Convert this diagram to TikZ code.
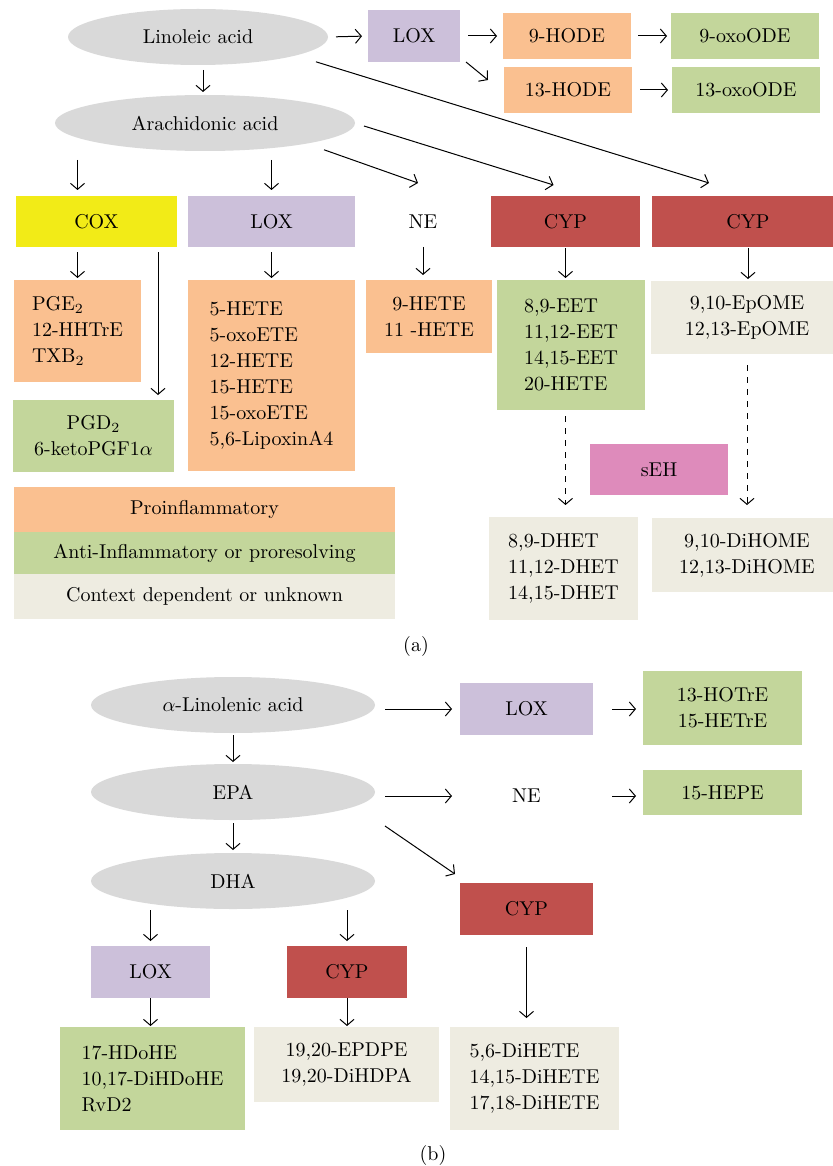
\documentclass[tikz,border=0pt]{standalone}
\usepackage{amsmath}
\usepackage{tikz}
\usepackage{xcolor}
\usetikzlibrary{shapes.geometric,positioning,arrows.meta}

\definecolor{acidgray}{HTML}{D9D9D9}
\definecolor{loxpurple}{HTML}{CCC0DA}
\definecolor{coxyellow}{HTML}{F2EB17}
\definecolor{cypred}{HTML}{C0504D}
\definecolor{sehpink}{HTML}{DE8BBB}
\definecolor{proorange}{HTML}{FAC090}
\definecolor{antigreen}{HTML}{C3D69B}
\definecolor{ctxbeige}{HTML}{EEECE1}

\begin{document}
\begin{tikzpicture}[x=0.5pt,y=-0.5pt,>={Straight Barb[length=3pt,width=7pt]},font=\fontsize{10}{13}\selectfont,
    acid/.style={ellipse,fill=acidgray,inner sep=0pt,outer sep=0pt,minimum width=#1,minimum height=28pt},
    box/.style={rectangle,fill=#1,inner sep=0pt,outer sep=0pt},
    plain/.style={rectangle,inner sep=0pt,outer sep=0pt}]
   \useasboundingbox (0,0) rectangle (833,1166);
   \clip (0,0) rectangle (833,1166);
   % (a)
   \node[acid=130pt] (la) at (198,37) {Linoleic acid};
   \node[acid=150pt] (aa) at (205,123) {Arachidonic acid};
   \node[box=loxpurple,minimum width=46pt,minimum height=26pt] (lox_1) at (414,36) {LOX};
   \node[box=proorange,minimum width=64pt,minimum height=23pt] (hode_9) at (567,36) {9-HODE};
   \node[box=antigreen,minimum width=74pt,minimum height=23pt] (oxo_9) at (745,36) {9-oxoODE};
   \node[box=proorange,minimum width=64pt,minimum height=23pt] (hode_13) at (568,90) {13-HODE};
   \node[box=antigreen,minimum width=74pt,minimum height=23pt] (oxo_13) at (746,90) {13-oxoODE};
   \node[box=coxyellow,minimum width=80.5pt,minimum height=25.5pt] (cox) at (96.5,221.5) {COX};
   \node[box=loxpurple,minimum width=83.5pt,minimum height=25.5pt] (lox_2) at (271.5,221.5) {LOX};
   \node[plain,minimum width=60pt,minimum height=25.5pt] (ne_1) at (423,221.5) {NE};
   \node[box=cypred,minimum width=74.5pt,minimum height=25.5pt] (cyp_1) at (565.5,221.5) {CYP};
   \node[box=cypred,minimum width=96pt,minimum height=25.5pt] (cyp_2) at (748,221.5) {CYP};
   \node[box=proorange,minimum width=63.5pt,minimum height=51pt,align=left] (pg_1) at (77.5,331) {PGE$_2$\\12-HHTrE\\TXB$_2$};
   \node[box=antigreen,minimum width=80.5pt,minimum height=36pt,align=center] (pg_2) at (93.5,436) {PGD$_2$\\6-ketoPGF1$\alpha$};
   \node[box=proorange,minimum width=83.5pt,minimum height=95.5pt,align=left] (hete_5) at (271.5,375.5) {5-HETE\\5-oxoETE\\12-HETE\\15-HETE\\15-oxoETE\\5,6-LipoxinA4};
   \node[box=proorange,minimum width=63pt,minimum height=36.5pt,align=center] (hete_9) at (429,316.5) {9-HETE\\11 -HETE};
   \node[box=antigreen,minimum width=74pt,minimum height=65pt,align=left] (eet) at (571,345) {8,9-EET\\11,12-EET\\14,15-EET\\20-HETE};
   \node[box=ctxbeige,minimum width=96pt,minimum height=36.5pt,align=center] (epome) at (747,317.5) {9,10-EpOME\\12,13-EpOME};
   \node[box=sehpink,minimum width=69pt,minimum height=25.5pt] (seh) at (659,469.5) {sEH};
   \node[box=ctxbeige,minimum width=74.5pt,minimum height=51.5pt,align=left] (dhet) at (563.5,568.5) {8,9-DHET\\11,12-DHET\\14,15-DHET};
   \node[box=ctxbeige,minimum width=95pt,minimum height=37pt,align=center] (dihome) at (747,555) {9,10-DiHOME\\12,13-DiHOME};
   % legend
   \node[box=proorange,minimum width=190.5pt,minimum height=22.5pt] (pro) at (204.5,509.5) {Proinflammatory};
   \node[box=antigreen,minimum width=190.5pt,minimum height=21pt,below=0pt of pro] (anti) {Anti-Inflammatory or proresolving};
   \node[box=ctxbeige,minimum width=190.5pt,minimum height=22.5pt,below=0pt of anti] (ctx) {Context dependent or unknown};
   \node (cap_a) at (416,646) {(a)};
   % (b)
   \node[acid=142pt] (ala) at (233,705) {$\alpha$-Linolenic acid};
   \node[acid=142pt,below=15.5pt of ala] (epa) {EPA};
   \node[acid=142pt,below=16.5pt of epa] (dha) {DHA};
   \node[box=loxpurple,minimum width=66.5pt,minimum height=26pt] (lox_3) at (526.5,709) {LOX};
   \node[box=antigreen,minimum width=79.5pt,minimum height=37pt,align=center] (hotre) at (722.5,708) {13-HOTrE\\15-HETrE};
   \node[plain,minimum width=66.5pt,minimum height=26pt] (ne_2) at (526.5,796) {NE};
   \node[box=antigreen,minimum width=79.5pt,minimum height=22.5pt] (hepe) at (722.5,792.5) {15-HEPE};
   \node[box=cypred,minimum width=66.5pt,minimum height=26pt] (cyp_3) at (526.5,909) {CYP};
   \node[box=loxpurple,minimum width=59.5pt,minimum height=26pt] (lox_4) at (150.5,972) {LOX};
   \node[box=cypred,minimum width=60pt,minimum height=26pt] (cyp_4) at (347,972) {CYP};
   \node[box=antigreen,minimum width=92.5pt,minimum height=51.5pt,align=left] (hdohe) at (152.5,1078.5) {17-HDoHE\\10,17-DiHDoHE\\RvD2};
   \node[box=ctxbeige,minimum width=92.5pt,minimum height=37.5pt,align=center] (epdpe) at (346.5,1064.5) {19,20-EPDPE\\19,20-DiHDPA};
   \node[box=ctxbeige,minimum width=84.5pt,minimum height=51.5pt,align=left] (dihete) at (534.5,1078.5) {5,6-DiHETE\\14,15-DiHETE\\17,18-DiHETE};
   \node (cap_b) at (433,1155) {(b)};
    \path[->,line width=0.5pt,shorten <=4pt,shorten >=3pt]
    (la.east) edge (lox_1.west)
    ([xshift=2.5pt]la.south) edge [shorten <=2.5pt,shorten >=1.5pt] ([xshift=2.5pt]la.south |- aa.north)
    ([shift={(26,5)}]la.south east) edge [shorten <=0pt,shorten >=0pt] ([shift={(-39,-13)}]cyp_2.north)
    (lox_1.east) edge (hode_9.west)
    ([xshift=3pt]lox_1.south east) edge [shorten <=0pt,shorten >=0pt] ([shift={(-16,-10)}]hode_13.west)
    (hode_9.east) edge [shorten <=3.5pt,shorten >=2pt] (oxo_9.west)
    (hode_13.east) edge [shorten >=2pt] (oxo_13.west)
    ([shift={(9,3)}]aa.east) edge [shorten <=0pt,shorten >=0pt] ([shift={(-12,-11)}]cyp_1.north)
    ([shift={(13,7)}]aa.south east) edge [shorten <=0pt,shorten >=0pt] ([shift={(-5,-13)}]ne_1.north)
    (aa.south -| pg_1) edge [shorten <=4.5pt] (cox.north -| pg_1)
    (aa.south -| lox_2) edge [shorten <=4.5pt] (lox_2.north)
    (cox.south -| pg_1) edge [shorten <=2.5pt,shorten >=1pt] (pg_1.north)
    ([xshift=-9.5pt]cox.south east) edge [shorten <=2.5pt,shorten >=2.5pt] ([xshift=-9.5pt]cox.south east |- pg_2.north)
    (lox_2.south) edge [shorten <=2.5pt,shorten >=1pt] (hete_5.north)
    (ne_1.south) edge [shorten <=0pt,shorten >=2.5pt] (ne_1.south |- hete_9.north)
    (cyp_1.south) edge [shorten <=0.5pt,shorten >=1pt] (cyp_1.south |- eet.north)
    (cyp_2.south) edge [shorten <=0.5pt,shorten >=1pt] (cyp_2.south |- epome.north)
    (eet.south -| cyp_1) edge [dashed,shorten <=3pt,shorten >=6pt] (cyp_1 |- dhet.north)
    (epome.south) edge [dashed,shorten <=5.5pt,shorten >=6.5pt] (dihome.north)
    (ala.east |- lox_3) edge [shorten <=5pt,shorten >=4pt] (lox_3.west)
    (lox_3.east) edge [shorten <=9.5pt,shorten >=3.5pt] (hotre.west |- lox_3)
    (epa.east |- ne_2) edge [shorten <=5pt,shorten >=4pt] (ne_2.west)
    (ne_2.east) edge [shorten <=9.5pt,shorten >=3.5pt] (hepe.west |- ne_2)
    (ala.south) edge [shorten <=1pt,shorten >=1pt] (epa.north)
    (epa.south) edge [shorten <=1.5pt,shorten >=1.5pt] (dha.north)
    ([shift={(10,34)}]epa.east) edge [shorten <=0pt,shorten >=0pt] ([shift={(-5,-9)}]cyp_3.north west)
    (dha.south -| lox_4) edge [shorten <=0.5pt,shorten >=2.5pt] (lox_4.north)
    (dha.south -| cyp_4) edge [shorten <=0.5pt,shorten >=2.5pt] (cyp_4.north)
    (lox_4.south) edge [shorten <=0pt,shorten >=0.5pt] (lox_4.south |- hdohe.north)
    (cyp_4.south) edge [shorten <=0pt,shorten >=0.5pt] (cyp_4.south |- epdpe.north)
    (cyp_3.south) edge [shorten <=6pt,shorten >=4.5pt] (cyp_3.south |- dihete.north);
\end{tikzpicture}
\end{document}
